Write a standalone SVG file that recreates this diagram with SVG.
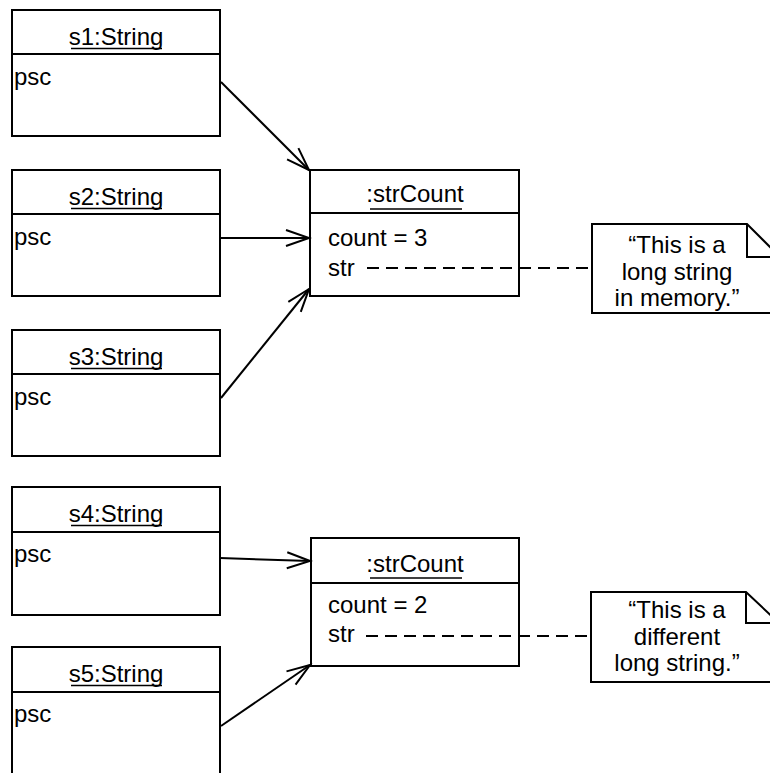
<svg xmlns="http://www.w3.org/2000/svg" width="770" height="773" viewBox="0 0 770 773">
<style>
.box{fill:#fff;stroke:#000;stroke-width:2}
.ln{stroke:#000;stroke-width:2;fill:none}
.t{font-family:"Liberation Sans",Arial,sans-serif;font-size:24px;fill:#000}
.c{text-anchor:middle}
.dash{stroke:#000;stroke-width:2;stroke-dasharray:12 7;fill:none}
.ul{stroke:#000;stroke-width:1.3}
</style>
<defs>
<marker id="arr" markerUnits="userSpaceOnUse" markerWidth="28" markerHeight="22" viewBox="-25 -11 28 22" refX="0" refY="0" orient="auto">
<path d="M-23,-8 L0,0 L-23,8" fill="none" stroke="#000" stroke-width="2"/>
</marker>
</defs>
<rect width="770" height="773" fill="#fff"/>
<g id="s1">
<rect class="box" x="12" y="10" width="208" height="126"/>
<line class="ln" x1="12" y1="54" x2="220" y2="54"/>
<text class="t c" x="116" y="45">s1:String</text>
<line class="ul" x1="71" y1="48.5" x2="162" y2="48.5"/>
<text class="t" x="14" y="85">psc</text>
</g>
<g id="s2">
<rect class="box" x="12" y="170" width="208" height="126"/>
<line class="ln" x1="12" y1="214" x2="220" y2="214"/>
<text class="t c" x="116" y="205">s2:String</text>
<line class="ul" x1="71" y1="208.5" x2="162" y2="208.5"/>
<text class="t" x="14" y="245">psc</text>
</g>
<g id="s3">
<rect class="box" x="12" y="330" width="208" height="126"/>
<line class="ln" x1="12" y1="374" x2="220" y2="374"/>
<text class="t c" x="116" y="365">s3:String</text>
<line class="ul" x1="71" y1="368.5" x2="162" y2="368.5"/>
<text class="t" x="14" y="405">psc</text>
</g>
<g id="s4">
<rect class="box" x="12" y="487" width="208" height="128"/>
<line class="ln" x1="12" y1="532" x2="220" y2="532"/>
<text class="t c" x="116" y="522">s4:String</text>
<line class="ul" x1="71" y1="525.5" x2="162" y2="525.5"/>
<text class="t" x="14" y="562">psc</text>
</g>
<g id="s5">
<rect class="box" x="12" y="647" width="208" height="150"/>
<line class="ln" x1="12" y1="692" x2="220" y2="692"/>
<text class="t c" x="116" y="682">s5:String</text>
<line class="ul" x1="71" y1="685.5" x2="162" y2="685.5"/>
<text class="t" x="14" y="722">psc</text>
</g>
<g id="strCount1">
<rect class="box" x="310" y="170" width="209" height="126"/>
<line class="ln" x1="310" y1="213" x2="519" y2="213"/>
<text class="t c" x="415" y="202">:strCount</text>
<line class="ul" x1="370" y1="209" x2="462" y2="209"/>
<text class="t" x="328" y="246">count = 3</text>
<text class="t" x="328" y="276">str</text>
</g>
<g id="strCount2">
<rect class="box" x="311" y="538" width="208" height="128"/>
<line class="ln" x1="311" y1="583" x2="519" y2="583"/>
<text class="t c" x="415" y="572">:strCount</text>
<line class="ul" x1="370" y1="578" x2="462" y2="578"/>
<text class="t" x="328" y="613">count = 2</text>
<text class="t" x="328" y="642">str</text>
</g>
<g id="note1">
<polygon class="box" points="592,224 747,224 780,257 780,313 592,313"/>
<polyline class="ln" points="747,224 747,257 780,257"/>
<text class="t c" x="677" y="253">“This is a</text>
<text class="t c" x="677" y="280">long string</text>
<text class="t c" x="677" y="306">in memory.”</text>
</g>
<g id="note2">
<polygon class="box" points="591,592 746,592 779,623 779,682 591,682"/>
<polyline class="ln" points="746,592 746,623 779,623"/>
<text class="t c" x="677" y="618">“This is a</text>
<text class="t c" x="677" y="645">different</text>
<text class="t c" x="677" y="671">long string.”</text>
</g>
<g id="connectors">
<line class="ln" x1="221" y1="82" x2="309" y2="170" marker-end="url(#arr)"/>
<line class="ln" x1="220" y1="238" x2="309" y2="238" marker-end="url(#arr)"/>
<line class="ln" x1="221" y1="398" x2="309" y2="289" marker-end="url(#arr)"/>
<line class="ln" x1="220" y1="558" x2="310" y2="561" marker-end="url(#arr)"/>
<line class="ln" x1="221" y1="726" x2="310" y2="665" marker-end="url(#arr)"/>
<line class="dash" x1="367" y1="268" x2="592" y2="268"/>
<line class="dash" x1="366" y1="636" x2="591" y2="636"/>
</g>
</svg>
